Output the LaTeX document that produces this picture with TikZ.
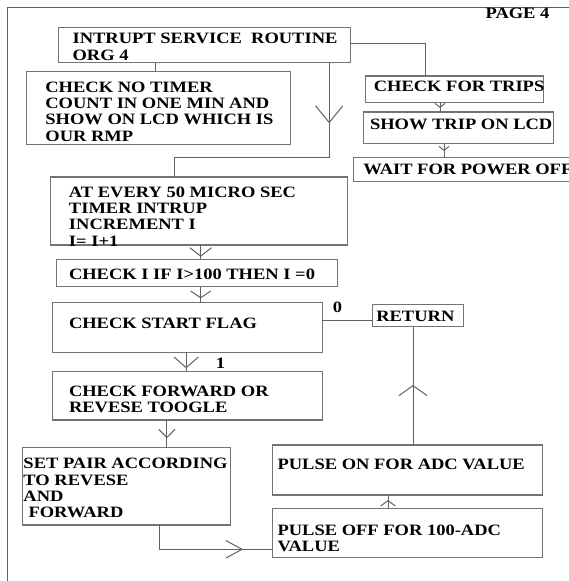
\documentclass[tikz,border=0pt]{standalone}
\usepackage{fontspec}
\setmainfont{Liberation Serif}[FakeStretch=1.17]
\usetikzlibrary{arrows.meta,decorations.markings}
\newcommand{\bxt}[5]{\parbox[c][#2pt][t]{#1pt}{\leftskip=#3pt\relax\vspace*{#4pt}#5}}
\tikzset{
  lc/.style={draw=black!62, line width=1pt},
  bx/.style={draw=black!55, line width=1.2pt, inner sep=0pt, outer sep=0pt, anchor=north west,
    font=\bfseries\fontsize{15.8}{16.3}\selectfont},
  lbl/.style={inner sep=0pt, font=\bfseries\fontsize{15.8}{16.3}\selectfont},
  barb/.style n args={3}{postaction={decorate, decoration={markings,
    mark=at position #1pt with {\arrow{Straight Barb[length=#2pt,width=#3pt]}}}}},
}
\begin{document}
\begin{tikzpicture}[x=1pt,y=-1pt]
\useasboundingbox (0,0) rectangle (569,581);
\clip (0,0) rectangle (569,581);
\fill[white] (0,0) rectangle (569,581);
% frame
\draw[lc] (569,7.3) -- (7.3,7.3) -- (7.3,581);
% boxes
\node[bx] (nisr) at (58.1,27.3) {\bxt{292.1}{35.4}{14.5}{6}{\mbox{INTRUPT SERVICE\ \ ROUTINE}\\\mbox{ORG 4}}};
\node[bx] (ntimer) at (26.5,71.7) {\bxt{263.8}{72.6}{18.9}{10}{\mbox{CHECK NO TIMER}\\\mbox{COUNT IN ONE MIN AND}\\\mbox{SHOW ON LCD WHICH IS}\\\mbox{OUR RMP}}};
\node[bx] (ntrips) at (365.4,76) {\bxt{177.9}{26.3}{8.4}{5}{\mbox{CHECK FOR TRIPS}}};
\node[bx] (nshow) at (363.6,112) {\bxt{189.8}{31.3}{6.4}{7}{\mbox{SHOW TRIP ON LCD}}};
\node[bx] (nwait) at (353.8,157.3) {\bxt{260}{24.4}{9.5}{7}{\mbox{WAIT FOR POWER OFF}}};
\node[bx] (nat) at (50.1,177) {\bxt{297.2}{68}{18.9}{9.7}{\mbox{AT EVERY 50 MICRO SEC}\\\mbox{TIMER INTRUP}\\\mbox{INCREMENT I}\\\mbox{I= I+1}}};
\node[bx] (nchecki) at (56.2,259.3) {\bxt{281.3}{27.4}{12.8}{10}{\mbox{CHECK I IF I>100 THEN I =0}}};
\node[bx] (nstart) at (52.6,302.7) {\bxt{269.7}{49.6}{16.4}{15.6}{\mbox{CHECK START FLAG}}};
\node[bx] (nfwd) at (52.6,371.3) {\bxt{269.7}{48.7}{16.4}{14.7}{\mbox{CHECK FORWARD OR}\\\mbox{REVESE TOOGLE}}};
\node[bx] (nset) at (22.5,447.7) {\bxt{207.9}{77.3}{1}{10.6}{\mbox{SET PAIR ACCORDING}\\\mbox{TO REVESE}\\\mbox{AND}\\\hspace*{5pt}\mbox{FORWARD}}};
\node[bx] (npon) at (272.2,445) {\bxt{270.3}{50}{5.4}{14.3}{\mbox{PULSE ON FOR ADC VALUE}}};
\node[bx] (npoff) at (272.2,508.3) {\bxt{270.3}{49.4}{5.4}{16.7}{\mbox{PULSE OFF FOR 100-ADC}\\\mbox{VALUE}}};
\node[bx] (nret) at (372.7,304.3) {\bxt{91.1}{22.4}{3.6}{6.7}{\mbox{RETURN}}};
% labels
\node[lbl] (lzero) at (337.5,307.7) {0};
\node[lbl] (lone) at (220.6,363) {1};
\node[lbl] (lpage) at (517.5,13.5) {PAGE 4};
% connectors
\draw[lc] (nisr.south -| 155.3,0) -- (ntimer.north -| 155.3,0);
\draw[lc, barb={60.6}{16.7}{27.3}] (nisr.south -| 329.2,0) |- (174.9,157.3) -- (nat.north -| 174.9,0);
\draw[lc] (nisr.east |- 0,43.3) -| (ntrips.north -| 425.3,0);
\draw[lc, barb={5.7}{4}{10}] (ntrips.south -| 440,0) -- (nshow.north -| 440,0);
\draw[lc, barb={7.7}{4}{10}] (nshow.south -| 444,0) -- (nwait.north -| 444,0);
\draw[lc, barb={11.7}{8.4}{21.8}] (nat.south -| 200.7,0) -- (nchecki.north -| 200.7,0);
\draw[lc, barb={11.6}{6.6}{20}] (nchecki.south -| 200.7,0) -- (nstart.north -| 200.7,0);
\draw[lc] (nstart.east |- 0,320) -- (nret.west |- 0,320);
\draw[lc, barb={16}{10.6}{24.3}] (nstart.south -| 186.2,0) -- (nfwd.north -| 186.2,0);
\draw[lc, barb={18.3}{8.3}{16.3}] (nfwd.south -| 166.9,0) -- (nset.north -| 166.9,0);
\draw[lc, barb={107.7}{16.3}{17.6}] (nset.south -| 159.7,0) |- (npoff.west |- 0,549.3);
\draw[lc, barb={8.3}{5.3}{14.5}] (npoff.north -| 388,0) -- (npon.south -| 388,0);
\draw[lc, barb={60}{10}{28}] (npon.north -| 413,0) -- (nret.south -| 413,0);
\end{tikzpicture}
\end{document}
